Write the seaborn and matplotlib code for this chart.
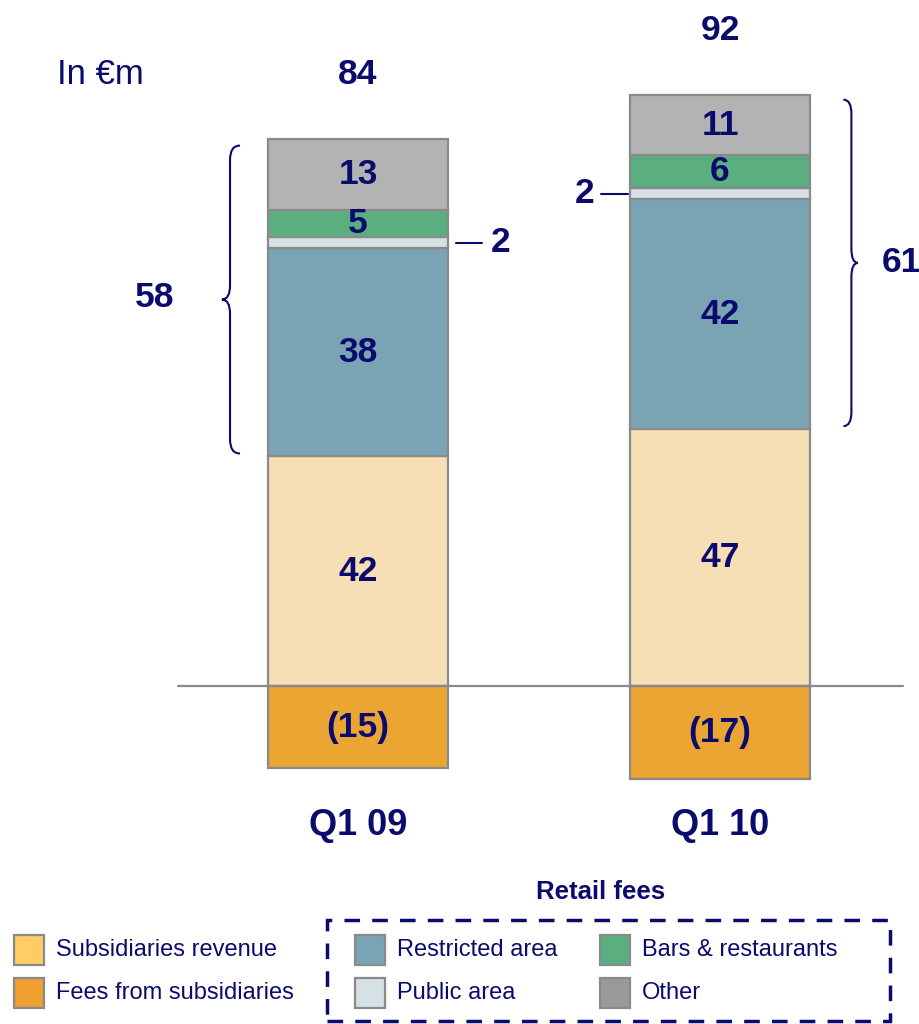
import matplotlib
matplotlib.use('Agg')
import matplotlib.pyplot as plt
import numpy as np
import seaborn as sns
from matplotlib.path import Path
from matplotlib.patches import PathPatch, Rectangle

# data (EUR m)
quarters = ['Q1 09', 'Q1 10']
subsidiaries_revenue = [42, 47]
restricted_area = [38, 42]
public_area = [2, 2]
bars_restaurants = [5, 6]
other = [13, 11]
fees_from_subsidiaries = [-15, -17]
totals = [84, 92]
retail_totals = [58, 61]

NAVY = '#0B0B6E'
EDGE = '#8A8A8A'
bar_colors = {
    'Subsidiaries revenue': '#F7DFB5',
    'Restricted area': '#7AA3B4',
    'Public area': '#D6E1E6',
    'Bars & restaurants': '#5BAE80',
    'Other': '#B3B3B3',
    'Fees from subsidiaries': '#EBA533',
}
legend_colors = {
    'Subsidiaries revenue': '#FFCC66',
    'Fees from subsidiaries': '#F0A030',
    'Restricted area': '#7AA3B4',
    'Public area': '#D6E1E6',
    'Bars & restaurants': '#5BAE80',
    'Other': '#999999',
}

sns.set_style('white')
plt.rcParams['font.family'] = ['Liberation Sans', 'DejaVu Sans']

W, H = 919, 1024
fig = plt.figure(figsize=(W / 100, H / 100), dpi=100)
ax = fig.add_axes([0, 0, 1, 1])

bw = 0.497
layers = [
    ('Subsidiaries revenue', subsidiaries_revenue),
    ('Restricted area', restricted_area),
    ('Public area', public_area),
    ('Bars & restaurants', bars_restaurants),
    ('Other', other),
]
bottom = np.zeros(len(quarters))
bounds = []
for name, vals in layers:
    sns.barplot(x=quarters, y=vals, bottom=bottom, color=bar_colors[name],
                edgecolor=EDGE, linewidth=1.6, width=bw, saturation=1, ax=ax, zorder=2)
    bounds.append((name, bottom.copy(), bottom + np.array(vals)))
    bottom = bottom + np.array(vals)
tops = bottom.copy()
sns.barplot(x=quarters, y=fees_from_subsidiaries, color=bar_colors['Fees from subsidiaries'],
            edgecolor=EDGE, linewidth=1.6, width=bw, saturation=1, ax=ax, zorder=2)

scale = 5.47
ax.set_xlim(-358 / 362, (W - 358) / 362)
ax.set_ylim(-(H - 686) / scale, 686 / scale)
ax.axis('off')

# baseline
ax.plot([(178 - 358) / 362, (903 - 358) / 362], [0, 0], color='#8A8A8A', lw=1.6, zorder=3)

NUM = 25.5

# segment labels
for name, lo, hi in bounds:
    for i in range(len(quarters)):
        v = hi[i] - lo[i]
        mid = (lo[i] + hi[i]) / 2
        if name == 'Public area':
            continue
        ax.text(i, mid, f'{v:g}', ha='center', va='center', fontsize=NUM,
                fontweight='bold', color=NAVY, zorder=4)
for i, v in enumerate(fees_from_subsidiaries):
    ax.text(i, v / 2, f'({-v})', ha='center', va='center', fontsize=NUM,
            fontweight='bold', color=NAVY, zorder=4)

# public area leaders
pa_lo, pa_hi = bounds[2][1], bounds[2][2]
pa_mid = (pa_lo + pa_hi) / 2
ax.plot([0.271, 0.343], [pa_mid[0], pa_mid[0]], color=NAVY, lw=1.5)
ax.text(0.395, pa_mid[0], f'{public_area[0]}', ha='center', va='center',
        fontsize=NUM, fontweight='bold', color=NAVY)
ax.plot([0.671, 0.746], [pa_mid[1], pa_mid[1]], color=NAVY, lw=1.5)
ax.text(0.627, pa_mid[1], f'{public_area[1]}', ha='center', va='center',
        fontsize=NUM, fontweight='bold', color=NAVY)

# totals and categories
for i, t in enumerate(totals):
    ax.text(i, tops[i] + 11.8, f'{t}', ha='center', va='center', fontsize=NUM,
            fontweight='bold', color=NAVY)
    ax.text(i, -25.5, quarters[i], ha='center', va='center', fontsize=26,
            fontweight='bold', color=NAVY)


def brace(ax, x, y0, y1, w, side):
    # side=-1 tip to the left, +1 tip to the right
    xe = x - side * w          # curl ends (toward bar)
    xm = x - side * w * 0.45   # vertical spine
    ym = (y0 + y1) / 2
    c = 2.6
    verts = [(xe, y1), (xm, y1), (xm, y1 - c),
             (xm, ym + c), (xm, ym), (x, ym),
             (xm, ym), (xm, ym - c),
             (xm, y0 + c), (xm, y0), (xe, y0)]
    codes = [Path.MOVETO, Path.CURVE3, Path.CURVE3,
             Path.LINETO, Path.CURVE3, Path.CURVE3,
             Path.CURVE3, Path.CURVE3,
             Path.LINETO, Path.CURVE3, Path.CURVE3]
    ax.add_patch(PathPatch(Path(verts, codes), fill=False, ec=NAVY, lw=1.5))


r_lo = bounds[1][1]
brace(ax, -0.376, r_lo[0] + 0.5, tops[0] - 1.2, 0.05, -1)
brace(ax, 1.381, r_lo[1] + 0.5, tops[1] - 0.8, 0.04, 1)
ax.text(-0.561, (r_lo[0] + tops[0]) / 2, f'{retail_totals[0]}', ha='center', va='center',
        fontsize=NUM, fontweight='bold', color=NAVY)
ax.text(1.50, (r_lo[1] + tops[1]) / 2, f'{retail_totals[1]}', ha='center', va='center',
        fontsize=NUM, fontweight='bold', color=NAVY)

# header
fig.text(57 / W, 1 - 75 / H, 'In €m', ha='left', va='center', fontsize=25, color=NAVY)


def fp(x, y):
    return x / W, 1 - y / H


# legend
def leg_item(x, y, name):
    fx, fy = fp(x, y + 15)
    fig.add_artist(Rectangle((fx, fy), 30 / W, 30 / H, transform=fig.transFigure,
                             facecolor=legend_colors[name], edgecolor=EDGE, lw=1.6))
    tx, ty = fp(x + 42, y)
    fig.text(tx, ty, name, ha='left', va='center', fontsize=17, color=NAVY)


leg_item(14, 950, 'Subsidiaries revenue')
leg_item(14, 993, 'Fees from subsidiaries')
leg_item(355, 950, 'Restricted area')
leg_item(355, 993, 'Public area')
leg_item(600, 950, 'Bars & restaurants')
leg_item(600, 993, 'Other')

bx, by = fp(327, 1021)
fig.add_artist(Rectangle((bx, by), (890 - 327) / W, (1021 - 920) / H, transform=fig.transFigure,
                         fill=False, edgecolor=NAVY, lw=2.5, linestyle=(0, (4.5, 3.5))))
tx, ty = fp(601, 892)
fig.text(tx, ty, 'Retail fees', ha='center', va='center', fontsize=18.5,
         fontweight='bold', color=NAVY)

fig.savefig('out.png', dpi=100)
